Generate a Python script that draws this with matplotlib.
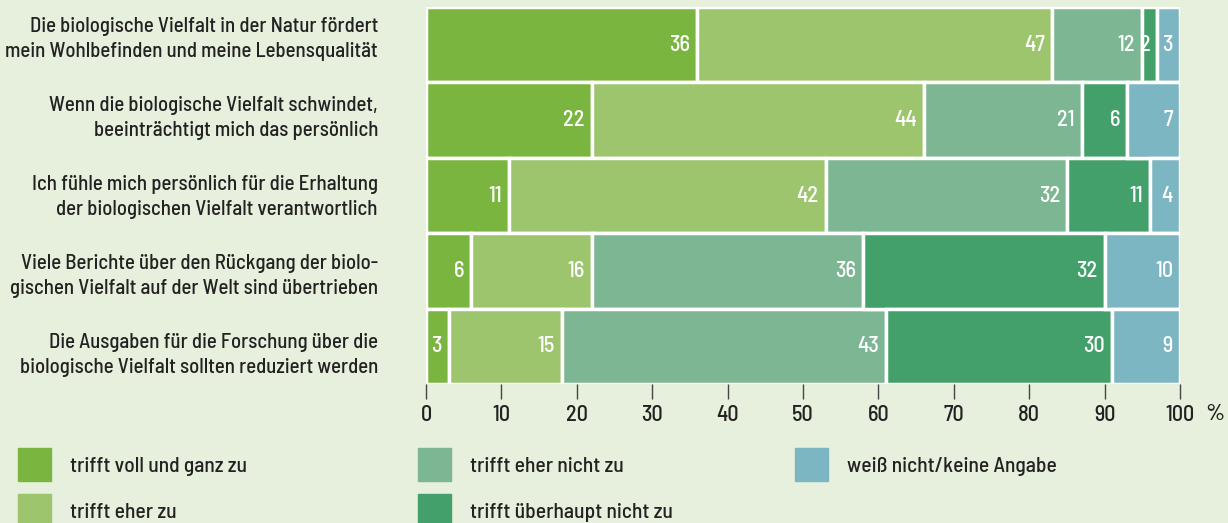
import matplotlib.pyplot as plt
from matplotlib.patches import Rectangle

statements = [
    "Die biologische Vielfalt in der Natur fördert\nmein Wohlbefinden und meine Lebensqualität",
    "Wenn die biologische Vielfalt schwindet,\nbeeinträchtigt mich das persönlich",
    "Ich fühle mich persönlich für die Erhaltung\nder biologischen Vielfalt verantwortlich",
    "Viele Berichte über den Rückgang der biolo-\ngischen Vielfalt auf der Welt sind übertrieben",
    "Die Ausgaben für die Forschung über die\nbiologische Vielfalt sollten reduziert werden",
]
answers = ["trifft voll und ganz zu", "trifft eher zu", "trifft eher nicht zu",
           "trifft überhaupt nicht zu", "weiß nicht/keine Angabe"]
voll = [36, 22, 11, 6, 3]
eher = [47, 44, 42, 16, 15]
eher_nicht = [12, 21, 32, 36, 43]
ueberhaupt_nicht = [2, 6, 11, 32, 30]
weiss_nicht = [3, 7, 4, 10, 9]
series = [voll, eher, eher_nicht, ueberhaupt_nicht, weiss_nicht]
colors = ["#7ab540", "#9dc56d", "#7db693", "#43a06b", "#7db6c3"]

plt.rcParams["font.family"] = ["Barlow Semi Condensed", "DejaVu Sans"]
plt.rcParams["font.weight"] = "medium"
bg = "#e6f0dc"
txt = "#222222"

fig = plt.figure(figsize=(12.28, 5.23), dpi=100, facecolor=bg)
ax = fig.add_axes([426 / 1228, 1 - 384 / 523, 754 / 1228, 377 / 523], facecolor=bg)

y = list(range(len(statements)))
left = [0] * len(statements)
for vals, col in zip(series, colors):
    bars = ax.barh(y, vals, left=left, height=1.0, color=col, edgecolor="white", linewidth=2.5)
    for b, v in zip(bars, vals):
        ax.annotate(str(v), (b.get_x() + b.get_width(), b.get_y() + b.get_height() / 2),
                    xytext=(-5, 0), textcoords="offset points", ha="right", va="center",
                    color="white", fontsize=16)
    left = [l + v for l, v in zip(left, vals)]

ax.set_xlim(0, 100)
ax.set_ylim(len(statements) - 0.5, -0.5)
ax.set_xticks(range(0, 101, 10))
ax.tick_params(axis="x", length=11, width=1, color="#444444", labelsize=16, labelcolor=txt, pad=4)
ax.set_yticks([])
for s in ax.spines.values():
    s.set_visible(False)

# statement labels, spaced slightly wider than the bars as in the original
for i, lab in enumerate(statements):
    ax.text(-48 / 754, 1 - (32 + 79 * i) / 377, lab, transform=ax.transAxes,
            ha="right", va="center", fontsize=15, color=txt, linespacing=1.45)

fig.text(1215 / 1228, 1 - 414 / 523, "%", fontsize=17, color=txt, ha="center", va="center")

legend_pos = [(18, 448), (18, 494), (418, 448), (418, 494), (795, 448)]
for (px, py), col, lab in zip(legend_pos, colors, answers):
    fig.add_artist(Rectangle((px / 1228, 1 - (py + 33) / 523), 33 / 1228, 33 / 523,
                             transform=fig.transFigure, color=col))
    fig.text((px + 52) / 1228, 1 - (py + 18) / 523, lab, fontsize=15.5, color=txt, va="center")

fig.savefig("out.png", dpi=100, facecolor=bg)
